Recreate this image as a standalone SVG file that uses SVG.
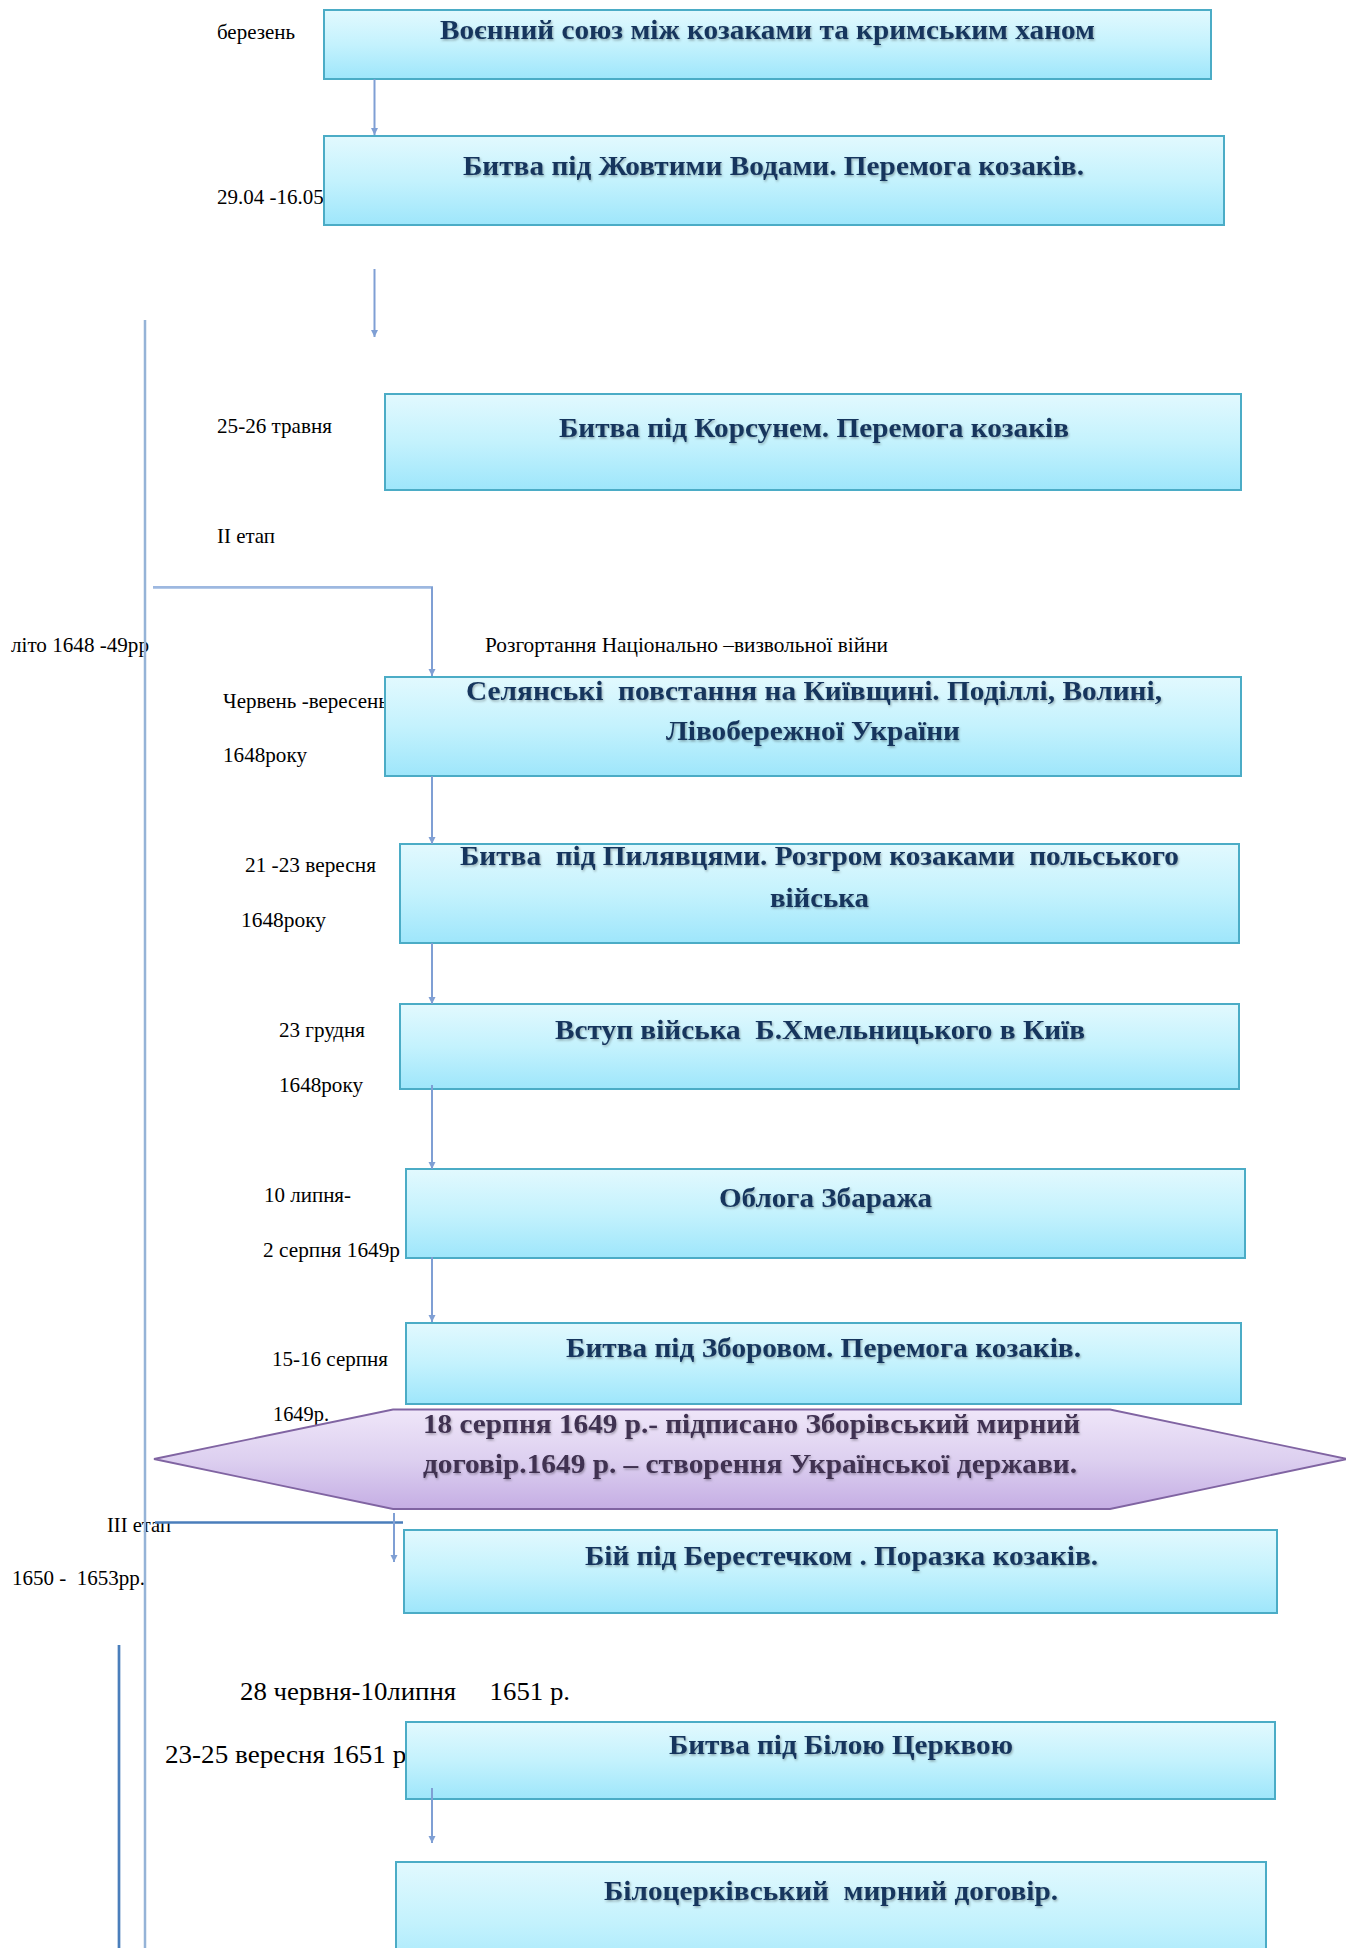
<svg xmlns="http://www.w3.org/2000/svg" width="1346" height="1948" viewBox="0 0 1346 1948">
<defs>
<linearGradient id="gBox" x1="0" y1="0" x2="0" y2="1">
<stop offset="0" stop-color="#E2F9FE"/>
<stop offset="0.5" stop-color="#C4F2FD"/>
<stop offset="1" stop-color="#9EE6FB"/>
</linearGradient>
<linearGradient id="gHex" x1="0" y1="0" x2="0" y2="1">
<stop offset="0" stop-color="#EFE6F9"/>
<stop offset="0.5" stop-color="#DDD0F0"/>
<stop offset="1" stop-color="#C5AEE4"/>
</linearGradient>
<filter id="sh" x="-5%" y="-30%" width="110%" height="160%">
<feDropShadow dx="1" dy="1.5" stdDeviation="0.8" flood-color="#000" flood-opacity="0.3"/>
</filter>
<marker id="arr" markerUnits="userSpaceOnUse" markerWidth="8" markerHeight="8" refX="7" refY="3.5" orient="auto">
<path d="M0,0 L7,3.5 L0,7 z" fill="#7F9FD4"/>
</marker>
</defs>
<style>
.box{fill:url(#gBox);stroke:#4BACC6;stroke-width:2}
.hex{fill:url(#gHex);stroke:#8064A2;stroke-width:1.8}
.bt{font-family:"Liberation Serif","Times New Roman",serif;font-weight:bold;font-size:28px;fill:#17365D;white-space:pre;filter:url(#sh)}
.ht{font-family:"Liberation Serif","Times New Roman",serif;font-weight:bold;font-size:28px;fill:#3F3151;white-space:pre;filter:url(#sh)}
.lb{font-family:"Liberation Serif","Times New Roman",serif;font-size:21px;fill:#000;white-space:pre}
.lb2{font-size:26px}
.conn{stroke:#7F9FD4;stroke-width:2;fill:none}
.conn2{stroke:#9DB8E0;stroke-width:2.7;fill:none}
.dark{stroke:#4A7EBB;stroke-width:2.7;fill:none}
.tl{stroke:#95B3D7;stroke-width:2.5;fill:none}
</style>
<rect width="1346" height="1948" fill="#fff"/>
<g id="labels">
<text class="lb" x="217" y="39" textLength="78" lengthAdjust="spacingAndGlyphs">березень</text>
<text class="lb" x="217" y="204">29.04 -16.05</text>
<text class="lb" x="217" y="433" textLength="115" lengthAdjust="spacingAndGlyphs">25-26 травня</text>
<text class="lb" x="217" y="543" textLength="58" lengthAdjust="spacingAndGlyphs">II етап</text>
<text class="lb" x="11" y="652" textLength="138" lengthAdjust="spacingAndGlyphs">літо 1648 -49рр</text>
<text class="lb" x="485" y="652" textLength="403" lengthAdjust="spacingAndGlyphs">Розгортання Національно –визвольної війни</text>
<text class="lb" x="223" y="708">Червень -вересень</text>
<text class="lb" x="223" y="762" textLength="84" lengthAdjust="spacingAndGlyphs">1648року</text>
<text class="lb" x="245" y="872" textLength="131" lengthAdjust="spacingAndGlyphs">21 -23 вересня</text>
<text class="lb" x="241" y="927" textLength="85" lengthAdjust="spacingAndGlyphs">1648року</text>
<text class="lb" x="279" y="1037" textLength="86" lengthAdjust="spacingAndGlyphs">23 грудня</text>
<text class="lb" x="279" y="1092" textLength="84" lengthAdjust="spacingAndGlyphs">1648року</text>
<text class="lb" x="264" y="1202" textLength="87" lengthAdjust="spacingAndGlyphs">10 липня-</text>
<text class="lb" x="263" y="1257" textLength="137" lengthAdjust="spacingAndGlyphs">2 серпня 1649р</text>
<text class="lb" x="272" y="1366" textLength="116" lengthAdjust="spacingAndGlyphs">15-16 серпня</text>
<text class="lb" x="273" y="1421" textLength="56" lengthAdjust="spacingAndGlyphs">1649р.</text>
<text class="lb" x="107" y="1532" textLength="64" lengthAdjust="spacingAndGlyphs">III етап</text>
<text class="lb" x="12" y="1585" textLength="133" lengthAdjust="spacingAndGlyphs">1650 -  1653рр.</text>
<text class="lb lb2" x="240" y="1700" textLength="330" lengthAdjust="spacingAndGlyphs">28 червня-10липня     1651 р.</text>
<text class="lb lb2" x="165" y="1763" textLength="248" lengthAdjust="spacingAndGlyphs">23-25 вересня 1651 р.</text>
</g>
<g id="n1"><rect class="box" x="324" y="10" width="887" height="69"/>
<text class="bt" x="440" y="39" textLength="655" lengthAdjust="spacingAndGlyphs">Воєнний союз між козаками та кримським ханом</text></g>
<g id="n2"><rect class="box" x="324" y="136" width="900" height="89"/>
<text class="bt" x="463" y="175" textLength="621" lengthAdjust="spacingAndGlyphs">Битва під Жовтими Водами. Перемога козаків.</text></g>
<g id="n3"><rect class="box" x="385" y="394" width="856" height="96"/>
<text class="bt" x="559" y="437" textLength="510" lengthAdjust="spacingAndGlyphs">Битва під Корсунем. Перемога козаків</text></g>
<g id="n4"><rect class="box" x="385" y="677" width="856" height="99"/>
<text class="bt" x="466" y="700" textLength="696" lengthAdjust="spacingAndGlyphs">Селянські  повстання на Київщині. Поділлі, Волині,</text>
<text class="bt" x="666" y="740" textLength="294" lengthAdjust="spacingAndGlyphs">Лівобережної України</text></g>
<g id="n5"><rect class="box" x="400" y="844" width="839" height="99"/>
<text class="bt" x="460" y="865" textLength="719" lengthAdjust="spacingAndGlyphs">Битва  під Пилявцями. Розгром козаками  польського</text>
<text class="bt" x="770" y="907" textLength="99" lengthAdjust="spacingAndGlyphs">війська</text></g>
<g id="n6"><rect class="box" x="400" y="1004" width="839" height="85"/>
<text class="bt" x="555" y="1039" textLength="530" lengthAdjust="spacingAndGlyphs">Вступ війська  Б.Хмельницького в Київ</text></g>
<g id="n7"><rect class="box" x="406" y="1169" width="839" height="89"/>
<text class="bt" x="719" y="1207" textLength="213" lengthAdjust="spacingAndGlyphs">Облога Збаража</text></g>
<g id="n8"><rect class="box" x="406" y="1323" width="835" height="81"/>
<text class="bt" x="566" y="1357" textLength="515" lengthAdjust="spacingAndGlyphs">Битва під Зборовом. Перемога козаків.</text></g>
<g id="n9"><polygon class="hex" points="154,1459 393,1409.5 1110,1409.5 1347,1459 1110,1509 393,1509"/>
<text class="ht" x="423" y="1433" textLength="657" lengthAdjust="spacingAndGlyphs">18 серпня 1649 р.- підписано Зборівський мирний</text>
<text class="ht" x="423" y="1473" textLength="654" lengthAdjust="spacingAndGlyphs">договір.1649 р. – створення Української держави.</text></g>
<g id="n10"><rect class="box" x="404" y="1530" width="873" height="83"/>
<text class="bt" x="585" y="1565" textLength="513" lengthAdjust="spacingAndGlyphs">Бій під Берестечком . Поразка козаків.</text></g>
<g id="n11"><rect class="box" x="406" y="1722" width="869" height="77"/>
<text class="bt" x="669" y="1754" textLength="344" lengthAdjust="spacingAndGlyphs">Битва під Білою Церквою</text></g>
<g id="n12"><rect class="box" x="396" y="1862" width="870" height="120"/>
<text class="bt" x="604" y="1900" textLength="454" lengthAdjust="spacingAndGlyphs">Білоцерківський  мирний договір.</text></g>
<g id="connectors">
<line class="tl" x1="145" y1="320" x2="145" y2="1948"/>
<line class="dark" x1="119" y1="1645" x2="119" y2="1948"/>
<line class="conn" x1="374.5" y1="79" x2="374.5" y2="135" marker-end="url(#arr)"/>
<line class="conn" x1="374.5" y1="269" x2="374.5" y2="337" marker-end="url(#arr)"/>
<line class="conn2" x1="153" y1="587.3" x2="433" y2="587.3"/>
<line class="conn" x1="432" y1="587" x2="432" y2="676" marker-end="url(#arr)"/>
<line class="conn" x1="432" y1="776" x2="432" y2="844" marker-end="url(#arr)"/>
<line class="conn" x1="432" y1="943" x2="432" y2="1004" marker-end="url(#arr)"/>
<line class="conn" x1="432" y1="1085" x2="432" y2="1169" marker-end="url(#arr)"/>
<line class="conn" x1="432" y1="1257" x2="432" y2="1322" marker-end="url(#arr)"/>
<line class="dark" x1="155" y1="1522.5" x2="403" y2="1522.5"/>
<line class="conn" x1="394" y1="1513" x2="394" y2="1562" marker-end="url(#arr)"/>
<line class="conn" x1="432" y1="1788" x2="432" y2="1843" marker-end="url(#arr)"/>
</g>
</svg>
